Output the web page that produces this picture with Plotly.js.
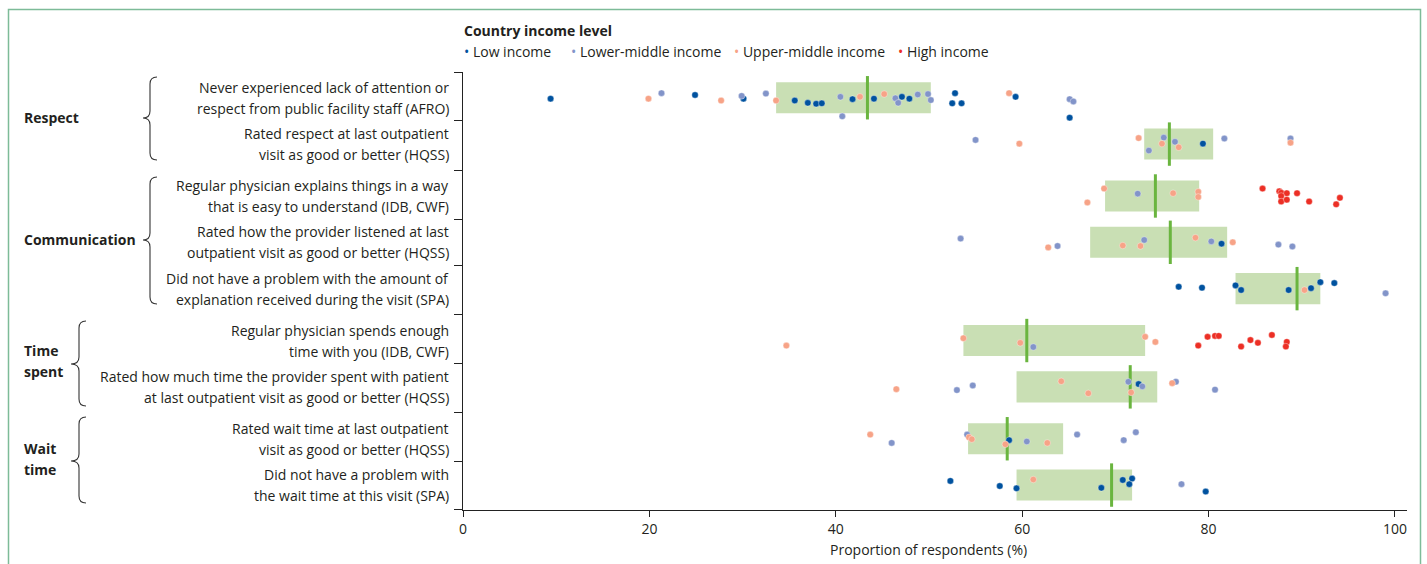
<!DOCTYPE html>
<html>
<head>
<meta charset="utf-8">
<script src="https://cdn.plot.ly/plotly-3.0.1.min.js"></script>
<style>html,body{margin:0;padding:0;background:#fff}#chart{width:1427px;height:564px}</style>
</head>
<body>
<div id="chart"></div>
<script>
// ---------- DATA ----------
const groupNames = ["Respect", "Communication", "Time spent", "Wait time"];
const rowGroup = [0, 0, 1, 1, 1, 2, 2, 3, 3];
const rowLabels = [
  ["Never experienced lack of attention or", "respect from public facility staff (AFRO)"],
  ["Rated respect at last outpatient", "visit as good or better (HQSS)"],
  ["Regular physician explains things in a way", "that is easy to understand (IDB, CWF)"],
  ["Rated how the provider listened at last", "outpatient visit as good or better (HQSS)"],
  ["Did not have a problem with the amount of", "explanation received during the visit (SPA)"],
  ["Regular physician spends enough", "time with you (IDB, CWF)"],
  ["Rated how much time the provider spent with patient", "at last outpatient visit as good or better (HQSS)"],
  ["Rated wait time at last outpatient", "visit as good or better (HQSS)"],
  ["Did not have a problem with", "the wait time at this visit (SPA)"]
];
// interquartile box and median per row
const boxLow    = [33.6, 73.1, 68.9, 67.3, 82.9, 53.7, 59.4, 54.2, 59.4];
const boxMedian = [43.4, 75.8, 74.3, 75.9, 89.5, 60.5, 71.6, 58.4, 69.6];
const boxHigh   = [50.2, 80.5, 79.0, 82.0, 92.0, 73.2, 74.5, 64.4, 71.8];

// Low income
const lowRows   = [0,0,0,0,0,0,0,0,0,0,0,0,0,0,0,0, 1, 3, 4,4,4,4,4,4,4,4, 6, 7, 8,8,8,8,8,8,8,8];
const lowValues = [9.4,24.9,30.1,35.6,37.0,37.9,38.5,41.8,44.1,47.1,47.9,52.8,52.5,53.5,59.3,65.1, 79.4, 81.4,
                   76.8,79.3,82.9,83.5,88.6,91.0,92.0,93.5, 72.5, 58.6, 52.3,57.6,59.4,68.5,70.8,71.8,71.5,79.7];
const lowJitter = [0.02,-0.06,0.02,0.06,0.11,0.13,0.12,0.03,0.02,-0.02,0.02,-0.10,0.12,0.12,-0.02,0.43, -0.01, 0.03,
                   -0.04,-0.02,-0.07,0.03,0.03,-0.01,-0.14,-0.12, -0.06, 0.03, -0.09,0.02,0.07,0.06,-0.11,-0.14,-0.02,0.14];
// Lower-middle income
const lmRows   = [0,0,0,0,0,0,0,0,0,0,0,0, 1,1,1,1,1,1, 2, 3,3,3,3,3,3, 4, 5, 6,6,6,6,6,6, 7,7,7,7,7,7, 8];
const lmValues = [21.3,29.9,32.5,40.5,40.7,46.4,46.7,48.8,49.9,50.2,65.1,65.5, 55.0,75.2,73.6,76.4,81.7,88.8, 72.4,
                  53.4,63.8,73.1,80.3,87.5,89.0, 99.0, 61.2, 53.0,54.7,71.4,72.9,76.5,80.7, 46.0,54.1,60.5,65.9,70.9,72.2, 77.1];
const lmJitter = [-0.10,-0.04,-0.09,-0.02,0.40,0.01,0.11,-0.07,-0.08,0.05,0.03,0.08, -0.09,-0.14,0.14,-0.05,-0.12,-0.12, -0.05,
                  -0.08,0.08,-0.05,-0.02,0.05,0.09, 0.10, 0.14, 0.07,-0.03,-0.11,-0.01,-0.11,0.06, 0.09,-0.09,0.06,-0.09,0.03,-0.14, -0.02];
// Upper-middle income
const umRows   = [0,0,0,0,0,0, 1,1,1,1,1, 2,2,2,2,2, 3,3,3,3,3, 4, 5,5,5,5,5, 6,6,6,6,6, 7,7,7,7,7, 8];
const umValues = [19.9,27.7,33.6,42.6,45.2,58.6, 59.7,72.5,75.0,76.8,88.8, 68.8,67.0,76.2,78.9,78.9, 62.8,70.8,72.7,78.6,82.6,
                  90.3, 34.7,53.7,59.8,73.2,74.3, 46.5,64.2,67.1,71.7,76.1, 43.7,54.3,54.6,58.2,62.7, 61.2];
const umJitter = [0.02,0.06,0.06,-0.02,-0.08,-0.10, -0.01,-0.13,-0.01,0.07,-0.03, -0.16,0.14,-0.06,-0.09,0.02, 0.11,0.07,0.08,-0.10,0.00,
                  0.03, 0.11,-0.05,0.05,-0.08,0.03, 0.05,-0.12,0.14,0.12,-0.08, -0.09,-0.03,0.01,0.12,0.09, -0.12];
// High income
const hiRows   = [2,2,2,2,2,2,2,2,2,2,2, 5,5,5,5,5,5,5,5,5,5];
const hiValues = [85.8,87.6,87.8,88.4,87.8,87.8,88.4,89.5,90.8,94.1,93.7, 78.9,79.9,80.7,81.1,83.5,84.5,85.3,86.8,88.4,88.3];
const hiJitter = [-0.16,-0.10,-0.07,-0.06,0.00,0.12,0.08,-0.06,0.12,0.04,0.18, 0.11,-0.08,-0.10,-0.10,0.13,-0.01,0.05,-0.12,0.03,0.13];

const xTicks = [0, 20, 40, 60, 80, 100];
const incomeNames = ["Low income", "Lower-middle income", "Upper-middle income", "High income"];

// ---------- LAYOUT HELPERS ----------
const W = 1427, H = 564;
const M = {l: 463, r: 20, t: 72, b: 54};
const PW = W - M.l - M.r, PH = H - M.t - M.b;
const GAP = 0.12;
const rowPos = rowGroup.map((g, i) => i + g * GAP);
const yTop = -0.556, yBot = rowPos[8] + 0.538;
const boundaries = [yTop];
for (let i = 0; i < rowPos.length - 1; i++) boundaries.push((rowPos[i] + rowPos[i + 1]) / 2);
boundaries.push(yBot - 0.004);

const px2paperX = px => (px - M.l) / PW;
const px2paperY = py => (H - M.b - py) / PH;

const colors = ["#00529f", "#8294c9", "#f7a387", "#ec2f25"];
const font = "'Open Sans', Lato, sans-serif";
const textColor = "#231f20";
const fs = 14;

function pointsTrace(rows, vals, jit, name, color) {
  return {
    type: "scatter", mode: "markers", name: name,
    x: vals, y: rows.map((r, i) => rowPos[r] + jit[i]),
    marker: {color: color, size: 6.5, line: {color: "rgba(255,255,255,0.6)", width: 0.6}},
    hoverinfo: "x+name", showlegend: false
  };
}

const traces = [
  {
    type: "bar", orientation: "h", y: rowPos,
    base: boxLow, x: boxHigh.map((h, i) => h - boxLow[i]),
    width: 0.67, marker: {color: "#c9dfb4", line: {width: 0}},
    hoverinfo: "skip", showlegend: false
  },
  {
    type: "scatter", mode: "markers", x: boxMedian, y: rowPos,
    marker: {symbol: "line-ns", size: 31, line: {color: "#6ab53f", width: 3}},
    hoverinfo: "x", showlegend: false
  },
  pointsTrace(lowRows, lowValues, lowJitter, incomeNames[0], colors[0]),
  pointsTrace(lmRows, lmValues, lmJitter, incomeNames[1], colors[1]),
  pointsTrace(umRows, umValues, umJitter, incomeNames[2], colors[2]),
  pointsTrace(hiRows, hiValues, hiJitter, incomeNames[3], colors[3])
];

const annotations = [];
// row labels
rowLabels.forEach((lines, i) => {
  lines.forEach((t, k) => {
    annotations.push({
      xref: "paper", yref: "y", x: px2paperX(451), y: rowPos[i],
      yshift: k === 0 ? 10.5 : -10.5,
      xanchor: "right", yanchor: "middle", align: "right", showarrow: false,
      text: t, font: {family: font, size: fs, color: textColor}
    });
  });
});
// group labels
const groupRows = [[0, 1], [2, 3, 4], [5, 6], [7, 8]];
groupNames.forEach((g, gi) => {
  const rs = groupRows[gi];
  const mid = (rowPos[rs[0]] + rowPos[rs[rs.length - 1]]) / 2;
  const words = gi >= 2 ? g.split(" ") : [g];
  words.forEach((w, k) => {
    annotations.push({
      xref: "paper", yref: "y", x: px2paperX(22), y: mid,
      yshift: words.length === 1 ? 3 : (k === 0 ? 13 : -8),
      xanchor: "left", yanchor: "middle", showarrow: false,
      text: "<b>" + w + "</b>", font: {family: font, size: fs, color: textColor}
    });
  });
});
// legend
annotations.push({
  xref: "paper", yref: "paper", x: px2paperX(462), y: px2paperY(30),
  xanchor: "left", yanchor: "middle", showarrow: false,
  text: "<b>Country income level</b>", font: {family: font, size: fs, color: textColor}
});
const legendX = [462, 569, 732, 896];
incomeNames.forEach((n, i) => {
  annotations.push({
    xref: "paper", yref: "paper", x: px2paperX(legendX[i]), y: px2paperY(52),
    xanchor: "left", yanchor: "middle", showarrow: false,
    text: "<span style='color:" + colors[i] + "'>•</span> " + n,
    font: {family: font, size: fs, color: textColor}
  });
});
// x title
annotations.push({
  xref: "x", yref: "paper", x: 50, y: px2paperY(549),
  xanchor: "center", yanchor: "middle", showarrow: false,
  text: "Proportion of respondents (%)", font: {family: font, size: fs, color: textColor}
});

// braces
function brace(xEnd, xSpine, xTip, yT, yM, yB) {
  const r = 7;
  const P = (x, y) => px2paperX(x).toFixed(5) + "," + px2paperY(y).toFixed(5);
  return "M" + P(xEnd, yT) +
    " Q" + P(xSpine, yT) + " " + P(xSpine, yT + r) +
    " L" + P(xSpine, yM - r) +
    " Q" + P(xSpine, yM) + " " + P(xTip, yM) +
    " Q" + P(xSpine, yM) + " " + P(xSpine, yM + r) +
    " L" + P(xSpine, yB - r) +
    " Q" + P(xSpine, yB) + " " + P(xEnd, yB);
}
const braceSpecs = [
  [157, 150, 143, 77, 118, 160],
  [157, 150, 143, 177, 240, 304],
  [86, 79, 71, 321, 364, 406],
  [86, 79, 71, 417, 461, 503]
];
const shapes = braceSpecs.map(b => ({
  type: "path", xref: "paper", yref: "paper", path: brace(...b),
  line: {color: "#333", width: 1.1}
}));
// outer frame
shapes.push({
  type: "rect", xref: "paper", yref: "paper",
  x0: px2paperX(8.5), x1: px2paperX(1420.5), y0: px2paperY(620), y1: px2paperY(9.5),
  line: {color: "#7dbb98", width: 1.5}, layer: "below"
});

const layout = {
  width: W, height: H, margin: M,
  paper_bgcolor: "#fff", plot_bgcolor: "#fff",
  showlegend: false, barmode: "overlay",
  font: {family: font, size: fs, color: textColor},
  xaxis: {
    range: [0, 101.3], tickvals: xTicks, ticktext: xTicks.map(String),
    ticks: "outside", ticklen: 6, tickcolor: "#222", tickwidth: 1,
    showline: true, linecolor: "#222", linewidth: 1.2,
    showgrid: false, zeroline: false, fixedrange: true,
    tickfont: {family: font, size: fs, color: textColor}
  },
  yaxis: {
    range: [yBot, yTop], tickvals: boundaries, showticklabels: false,
    ticks: "outside", ticklen: 8, tickcolor: "#222", tickwidth: 1,
    showline: true, linecolor: "#222", linewidth: 1.2,
    showgrid: false, zeroline: false, fixedrange: true
  },
  annotations: annotations,
  shapes: shapes
};

Plotly.newPlot("chart", traces, layout, {displayModeBar: false, staticPlot: true});
</script>
</body>
</html>
